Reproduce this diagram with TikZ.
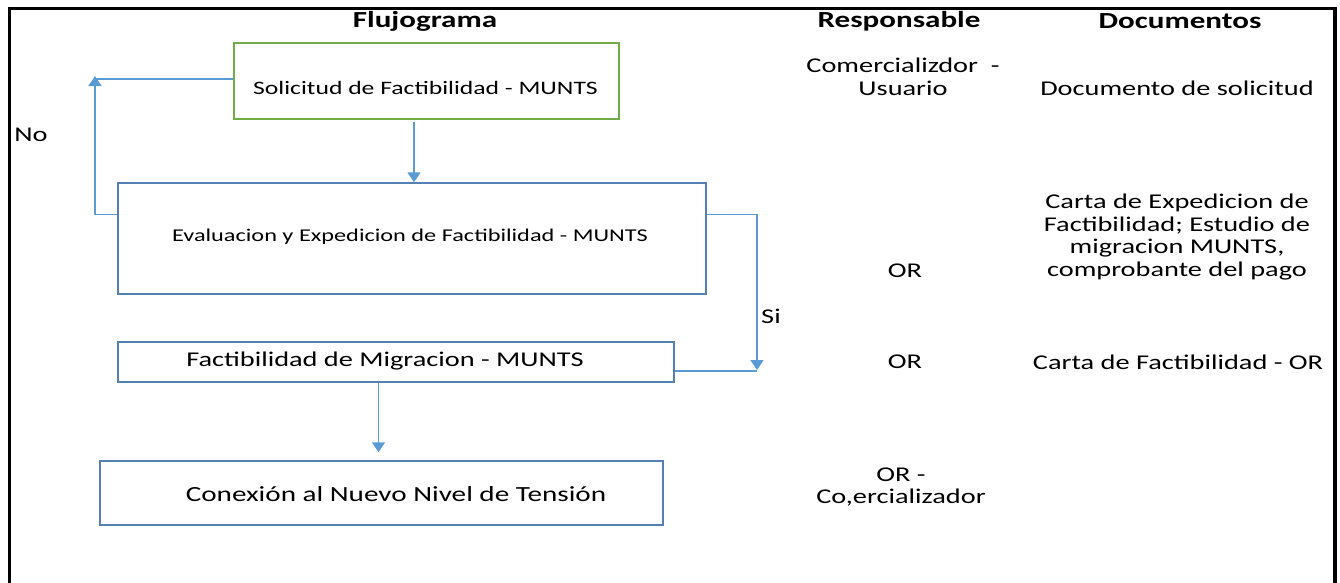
\documentclass[tikz,border=0pt]{standalone}
\usepackage{fontspec}
\setmainfont{Carlito}[FakeStretch=1.35]
\usetikzlibrary{arrows.meta}
\definecolor{boxgreen}{RGB}{112,173,71}
\definecolor{boxblue}{RGB}{84,128,180}
\definecolor{arrblue}{RGB}{91,155,213}
\tikzset{
  flowbox/.style={draw=boxblue, line width=1.5pt, rectangle, inner sep=0pt},
  txt/.style={inner sep=0pt, align=center, font=\fontsize{21}{22.7}\selectfont},
  hdr/.style={inner sep=0pt, font=\fontsize{23}{24}\selectfont\bfseries},
  conn/.style={draw=arrblue, line width=1.5pt},
  arr/.style={conn, -{Triangle[width=13pt,length=10pt]}},
  frameline/.style={draw=black, line width=3pt}
}
\begin{document}
\begin{tikzpicture}[x=1pt,y=-1pt]
\useasboundingbox (0,0) rectangle (1340,582);
% frame
\draw[frameline] (9,600) -- (9,8) -- (1335,8);
\draw[draw=black, line width=4.5pt] (1335,6.5) -- (1335,600);
% headers
\node[hdr] (h1) at (425,21) {Flujograma};
\node[hdr] (h2) at (899,21) {Responsable};
\node[hdr] (h3) at (1180,21) {Documentos};
% boxes
\node[flowbox, draw=boxgreen, minimum width=385pt, minimum height=76pt] (b1) at (426.5,81) {};
\node[flowbox, minimum width=588pt, minimum height=111pt] (b2) at (412,238.5) {};
\node[flowbox, minimum width=556pt, minimum height=40pt] (b3) at (396,362) {};
\node[flowbox, minimum width=563pt, minimum height=64pt] (b4) at (381.5,493) {};
% box texts
\node[txt, font=\fontsize{19}{22}\selectfont] (t1) at (425.5,88) {Solicitud de Factibilidad - MUNTS};
\node[txt, font=\fontsize{18}{22}\selectfont] (t2) at (410,237) {Evaluacion y Expedicion de Factibilidad - MUNTS};
\node[txt] (t3) at (385,361) {Factibilidad de Migracion - MUNTS};
\node[txt, font=\fontsize{21.6}{22}\selectfont] (t4) at (396,494) {Conexión al Nuevo Nivel de Tensión};
% responsable
\node[txt] (r1) at (903,77) {Comercializdor \ -\\Usuario};
\node[txt] (r2) at (905,271) {OR};
\node[txt] (r3) at (905,362) {OR};
\node[txt] (r4) at (901,487) {OR -\\Co,ercializador};
% documentos
\node[txt] (d1) at (1177,88) {Documento de solicitud};
\node[txt] (d2) at (1177,237) {Carta de Expedicion de\\Factibilidad; Estudio de\\migracion MUNTS,\\comprobante del pago};
\node[txt] (d3) at (1178,362) {Carta de Factibilidad - OR};
% labels
\node[txt] (no) at (31,135) {No};
\node[txt] (si) at (771,316) {Si};
% connectors
\coordinate (noTip) at (95,76);
\coordinate (noJoin) at (95,79);
\coordinate (siTip) at (757,370);
\coordinate (siJoin) at (757,371);
\draw[arr, shorten <=2pt] ([xshift=-12.5pt]b1.south) -- ([xshift=2pt]b2.north);
\draw[arr] ([yshift=24pt]b2.west) -| (noTip);
\draw[conn] ([yshift=2pt]b1.west) -- (noJoin);
\draw[arr] ([yshift=24pt]b2.east) -| (siTip);
\draw[conn] ([yshift=-9pt]b3.east) -- (siJoin);
\draw[arr, shorten >=8pt] ([xshift=-17.5pt]b3.south) -- ([xshift=-3pt]b4.north);
\end{tikzpicture}
\end{document}
